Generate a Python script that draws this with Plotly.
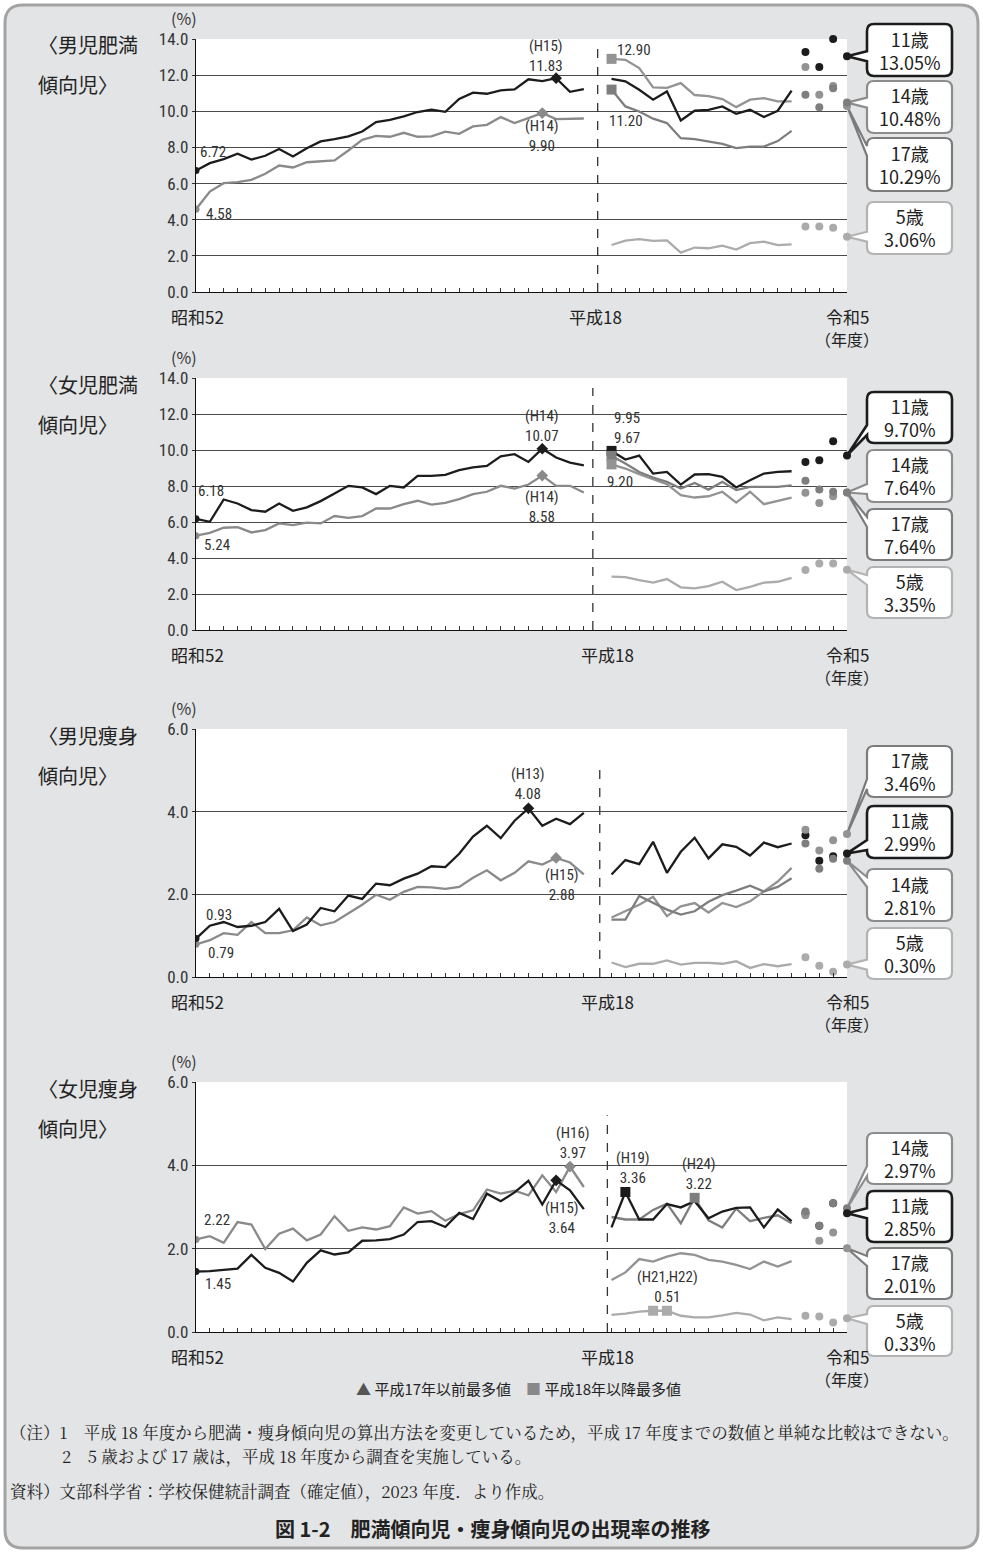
import plotly.graph_objects as go

W, H = 983, 1553

# ---------------- data ----------------
pre_years = list(range(1977, 2006))
post_years = list(range(2006, 2020))
dot_years = [2020, 2021, 2022]
last_year = 2023

# 男児肥満傾向児
bo_pre_11 = [6.72, 7.13, 7.35, 7.65, 7.33, 7.54, 7.91, 7.50, 7.96, 8.33, 8.46, 8.61, 8.88, 9.40, 9.53,
             9.72, 9.96, 10.09, 9.97, 10.68, 11.03, 10.97, 11.16, 11.21, 11.77, 11.67, 11.83, 11.08, 11.23]
bo_pre_14 = [4.58, 5.56, 6.02, 6.08, 6.21, 6.54, 7.00, 6.89, 7.18, 7.24, 7.28, 7.83, 8.42, 8.64, 8.59,
             8.81, 8.59, 8.61, 8.87, 8.75, 9.16, 9.25, 9.68, 9.35, 9.62, 9.90, 9.57, 9.60, 9.60]
bo_post_5 = [2.60, 2.84, 2.92, 2.83, 2.86, 2.18, 2.46, 2.42, 2.57, 2.35, 2.70, 2.79, 2.59, 2.64]
bo_post_11 = [11.80, 11.66, 11.19, 10.64, 11.10, 9.49, 10.03, 10.08, 10.27, 9.86, 10.08, 9.68, 10.03, 11.14]
bo_post_14 = [11.20, 10.27, 9.99, 9.59, 9.35, 8.51, 8.46, 8.33, 8.20, 7.96, 8.05, 8.05, 8.35, 8.92]
bo_post_17 = [12.90, 12.85, 12.39, 11.32, 11.30, 11.56, 10.90, 10.84, 10.68, 10.23, 10.64, 10.73, 10.55, 10.55]
bo_dots_5 = [3.62, 3.62, 3.55]
bo_dots_11 = [13.28, 12.45, 14.00]
bo_dots_14 = [10.92, 10.23, 11.28]
bo_dots_17 = [12.45, 10.92, 11.40]
bo_last = {"11": 13.05, "14": 10.48, "17": 10.29, "5": 3.06}

# 女児肥満傾向児
go_pre_11 = [6.18, 6.01, 7.25, 7.03, 6.66, 6.57, 7.03, 6.62, 6.81, 7.16, 7.58, 8.01, 7.92, 7.55, 8.01,
             7.92, 8.56, 8.56, 8.62, 8.88, 9.03, 9.12, 9.65, 9.77, 9.34, 10.07, 9.58, 9.30, 9.15]
go_pre_14 = [5.24, 5.40, 5.68, 5.71, 5.42, 5.55, 5.92, 5.83, 5.97, 5.92, 6.33, 6.23, 6.33, 6.75, 6.75,
             6.99, 7.18, 6.97, 7.06, 7.27, 7.55, 7.68, 8.01, 7.86, 8.08, 8.58, 8.01, 8.01, 7.64]
go_post_5 = [2.96, 2.94, 2.77, 2.63, 2.83, 2.37, 2.31, 2.44, 2.68, 2.22, 2.40, 2.63, 2.68, 2.90]
go_post_11 = [9.95, 9.47, 9.69, 8.69, 8.78, 8.08, 8.64, 8.66, 8.51, 7.92, 8.32, 8.69, 8.78, 8.82]
go_post_14 = [9.67, 9.25, 8.78, 8.47, 8.23, 7.86, 8.17, 7.80, 8.23, 7.77, 7.95, 7.95, 7.95, 8.03]
go_post_17 = [9.20, 8.97, 8.66, 8.36, 8.10, 7.49, 7.36, 7.43, 7.68, 7.08, 7.68, 6.99, 7.18, 7.36]
go_dots_5 = [3.33, 3.70, 3.70]
go_dots_11 = [9.34, 9.43, 10.49]
go_dots_14 = [8.29, 7.80, 7.68]
go_dots_17 = [7.62, 7.06, 7.43]
go_last = {"11": 9.70, "14": 7.64, "17": 7.64, "5": 3.35}

# 男児痩身傾向児
bt_pre_11 = [0.93, 1.24, 1.33, 1.21, 1.24, 1.33, 1.65, 1.11, 1.27, 1.67, 1.59, 1.97, 1.89, 2.26, 2.22,
             2.38, 2.50, 2.68, 2.66, 2.98, 3.40, 3.66, 3.36, 3.78, 4.08, 3.66, 3.83, 3.70, 3.97]
bt_pre_14 = [0.79, 0.89, 1.06, 1.02, 1.33, 1.06, 1.06, 1.13, 1.44, 1.25, 1.33, 1.53, 1.75, 1.99, 1.87,
             2.06, 2.18, 2.17, 2.13, 2.18, 2.40, 2.58, 2.34, 2.52, 2.80, 2.72, 2.88, 2.77, 2.48]
bt_post_5 = [0.35, 0.24, 0.32, 0.32, 0.40, 0.30, 0.34, 0.34, 0.32, 0.38, 0.22, 0.31, 0.26, 0.31]
bt_post_11 = [2.48, 2.83, 2.73, 3.27, 2.52, 3.03, 3.37, 2.87, 3.21, 3.15, 2.94, 3.25, 3.14, 3.23]
bt_post_14 = [1.39, 1.39, 1.96, 1.79, 1.63, 1.51, 1.59, 1.82, 1.98, 2.09, 2.21, 2.07, 2.18, 2.39]
bt_post_17 = [1.44, 1.60, 1.75, 1.94, 1.47, 1.71, 1.79, 1.56, 1.79, 1.69, 1.83, 2.07, 2.31, 2.64]
bt_dots_5 = [0.48, 0.27, 0.13]
bt_dots_11 = [3.43, 2.81, 2.92]
bt_dots_14 = [3.23, 2.62, 2.86]
bt_dots_17 = [3.56, 3.06, 3.31]
bt_last = {"11": 2.99, "14": 2.81, "17": 3.46, "5": 0.30}

# 女児痩身傾向児
gt_pre_11 = [1.45, 1.46, 1.49, 1.52, 1.85, 1.54, 1.42, 1.21, 1.66, 1.96, 1.86, 1.91, 2.19, 2.20, 2.23,
             2.34, 2.64, 2.66, 2.52, 2.86, 2.71, 3.32, 3.14, 3.35, 3.63, 3.06, 3.64, 3.40, 2.95]
gt_pre_14 = [2.22, 2.30, 2.14, 2.64, 2.58, 1.99, 2.36, 2.48, 2.20, 2.34, 2.78, 2.43, 2.51, 2.46, 2.54,
             2.99, 2.84, 2.90, 2.67, 2.83, 2.92, 3.42, 3.32, 3.39, 3.28, 3.76, 3.36, 3.97, 3.48]
gt_post_5 = [0.41, 0.44, 0.49, 0.51, 0.51, 0.39, 0.35, 0.35, 0.40, 0.46, 0.42, 0.28, 0.35, 0.31]
gt_post_11 = [2.51, 3.36, 2.70, 2.70, 3.07, 2.99, 3.14, 2.73, 2.89, 2.98, 2.99, 2.51, 2.94, 2.66]
gt_post_14 = [2.76, 2.70, 2.70, 2.93, 3.08, 2.61, 3.22, 2.68, 2.51, 2.96, 2.66, 2.74, 2.80, 2.61]
gt_post_17 = [1.25, 1.43, 1.75, 1.69, 1.81, 1.89, 1.85, 1.73, 1.69, 1.61, 1.51, 1.69, 1.57, 1.70]
gt_dots_5 = [0.39, 0.37, 0.23]
gt_dots_11 = [2.85, 2.55, 3.09]
gt_dots_14 = [2.89, 2.55, 3.09]
gt_dots_17 = [2.80, 2.19, 2.39]
gt_last = {"11": 2.85, "14": 2.97, "17": 2.01, "5": 0.33}

panel_titles = [("〈男児肥満", "傾向児〉"), ("〈女児肥満", "傾向児〉"),
                ("〈男児痩身", "傾向児〉"), ("〈女児痩身", "傾向児〉")]
x_labels = ["昭和52", "平成18", "令和5"]

# ---------------- style ----------------
C11, C14, C17, C5, CPRE14 = "#1c1c1c", "#7e7e7e", "#939393", "#ababab", "#8a8a8a"
BOX = {"11": "#1c1c1c", "14": "#8c8c8c", "17": "#7c7c7c", "5": "#b3b3b3"}
SERIES_COL = {"11": C11, "14": C14, "17": C17, "5": C5}
NUM = "Roboto Condensed, Liberation Sans Narrow, Liberation Sans, Noto Sans CJK JP, sans-serif"
JP = "Noto Sans CJK JP, sans-serif"
SERIF = "Noto Serif CJK JP, Noto Sans CJK JP, serif"
TXT = "#2a2a2a"

X0, X1 = 196, 847                         # plot area pixels (left/right)
GEOM = [(39, 292), (378, 630), (729, 977), (1082, 1332)]   # (top px, bottom px)
YMAX = [14, 14, 6, 6]
DASH_X = [29.0, 28.65, 29.15, 29.7]


def xi(year):
    return year - 1977 if year <= 2005 else year - 1976


def pp(x, y):
    return x / W, 1 - y / H


panels = [
    dict(pre11=bo_pre_11, pre14=bo_pre_14, p5=bo_post_5, p11=bo_post_11, p14=bo_post_14, p17=bo_post_17,
         d5=bo_dots_5, d11=bo_dots_11, d14=bo_dots_14, d17=bo_dots_17, last=bo_last,
         order=["11", "14", "17", "5"]),
    dict(pre11=go_pre_11, pre14=go_pre_14, p5=go_post_5, p11=go_post_11, p14=go_post_14, p17=go_post_17,
         d5=go_dots_5, d11=go_dots_11, d14=go_dots_14, d17=go_dots_17, last=go_last,
         order=["11", "14", "17", "5"]),
    dict(pre11=bt_pre_11, pre14=bt_pre_14, p5=bt_post_5, p11=bt_post_11, p14=bt_post_14, p17=bt_post_17,
         d5=bt_dots_5, d11=bt_dots_11, d14=bt_dots_14, d17=bt_dots_17, last=bt_last,
         order=["17", "11", "14", "5"]),
    dict(pre11=gt_pre_11, pre14=gt_pre_14, p5=gt_post_5, p11=gt_post_11, p14=gt_post_14, p17=gt_post_17,
         d5=gt_dots_5, d11=gt_dots_11, d14=gt_dots_14, d17=gt_dots_17, last=gt_last,
         order=["14", "11", "17", "5"]),
]

BOXES = [
    [(24, 76), (81, 133), (138, 191), (202, 254)],
    [(392, 443), (450, 502), (509, 560), (567, 618)],
    [(746, 797), (806, 858), (869, 921), (928, 979)],
    [(1133, 1184), (1191, 1242), (1248, 1299), (1306, 1356)],
]
BX0, BX1 = 867, 952

MAX_PRE = [
    (0, 2003, "(H15)", "bottom", -10, 1, C11, True),
    (0, 2002, "(H14)", "top", 0, -2, CPRE14, False),
    (1, 2002, "(H14)", "bottom", 0, 2, C11, True),
    (1, 2002, "(H14)", "top", 0, -10, CPRE14, False),
    (2, 2001, "(H13)", "bottom", 0, 3, C11, True),
    (2, 2003, "(H15)", "top", 6, -6, CPRE14, False),
    (3, 2004, "(H16)", "bottom", 3, 3, CPRE14, False),
    (3, 2003, "(H15)", "top", 6, -17, C11, True),
]

fig = go.Figure()
shapes, annos = [], []
F = lambda s, c=TXT, fam=NUM: dict(size=s, color=c, family=fam)


def P(x, y):
    a, b = pp(x, y)
    return f"{a:.5f},{b:.5f}"


def rr_path(x0, y0, x1, y1, r):
    return (f"M{P(x0+r,y0)} L{P(x1-r,y0)} Q{P(x1,y0)} {P(x1,y0+r)} L{P(x1,y1-r)} Q{P(x1,y1)} {P(x1-r,y1)} "
            f"L{P(x0+r,y1)} Q{P(x0,y1)} {P(x0,y1-r)} L{P(x0,y0+r)} Q{P(x0,y0)} {P(x0+r,y0)} Z")


def callout_path(x0, y0, x1, y1, tx, ty, r=7, hw=5):
    bc = min(max(ty, y0 + r + hw + 1), y1 - r - hw - 1)
    bA, bB = bc + hw, bc - hw
    return (f"M{P(x0+r,y0)} L{P(x1-r,y0)} Q{P(x1,y0)} {P(x1,y0+r)} L{P(x1,y1-r)} Q{P(x1,y1)} {P(x1-r,y1)} "
            f"L{P(x0+r,y1)} Q{P(x0,y1)} {P(x0,y1-r)} L{P(x0,bA)} L{P(tx,ty)} L{P(x0,bB)} "
            f"L{P(x0,y0+r)} Q{P(x0,y0)} {P(x0+r,y0)} Z")


shapes.append(dict(type="path", xref="paper", yref="paper", path=rr_path(5, 5, 978, 1548, 18),
                   fillcolor="#e3e4e5", line=dict(color="#a3a3a3", width=3), layer="below"))

xpre = [xi(y) for y in pre_years]
xpost = [xi(y) for y in post_years]
xdots = [xi(y) for y in dot_years]
xlast = xi(last_year)
layout_axes = {}

for k, p in enumerate(panels):
    top, bot = GEOM[k]
    ymax = YMAX[k]
    xa = "x" if k == 0 else f"x{k+1}"
    ya = "y" if k == 0 else f"y{k+1}"
    layout_axes["xaxis" if k == 0 else f"xaxis{k+1}"] = dict(
        domain=[X0 / W, X1 / W], range=[0, 47], anchor=ya, showgrid=False, zeroline=False,
        showline=True, linecolor="#111", linewidth=1.3, ticks="inside", ticklen=4, tickwidth=1,
        tickcolor="#333", tickvals=[i for i in range(48) if i != 29], showticklabels=False,
        fixedrange=True, automargin=False)
    layout_axes["yaxis" if k == 0 else f"yaxis{k+1}"] = dict(
        domain=[1 - bot / H, 1 - top / H], range=[0, ymax], anchor=xa, dtick=2, tickformat=".1f",
        showgrid=True, gridcolor="#4a4a4a", gridwidth=1, zeroline=False, showline=True,
        linecolor="#111", linewidth=1.3, ticks="outside", ticklen=3, tickcolor="#333",
        tickfont=F(17, "#333"), fixedrange=True, automargin=False)

    shapes.append(dict(type="rect", xref="paper", yref="paper", x0=X0 / W, x1=X1 / W,
                       y0=1 - bot / H, y1=1 - top / H, fillcolor="white", line=dict(width=0), layer="below"))
    dtop = ymax * (0.96 if ymax == 14 else 0.867)
    shapes.append(dict(type="line", xref=xa, yref=ya, x0=DASH_X[k], x1=DASH_X[k], y0=0, y1=dtop,
                       line=dict(color="#333", width=1.3, dash="dash"), layer="above"))

    def add(x, y, color, width=2.3, mode="lines", msize=8, symbol="circle", clip=True):
        fig.add_trace(go.Scatter(x=x, y=y, xaxis=xa, yaxis=ya, mode=mode, cliponaxis=clip,
                                 line=dict(color=color, width=width),
                                 marker=dict(color=color, size=msize, symbol=symbol, line=dict(width=0)),
                                 hoverinfo="skip", showlegend=False))

    add(xpre, p["pre14"], CPRE14)
    add(xpre, p["pre11"], C11)
    add([xpre[0]], [p["pre14"][0]], CPRE14, mode="markers", msize=7)
    add([xpre[0]], [p["pre11"][0]], C11, mode="markers", msize=7)
    add(xpost, p["p5"], C5)
    add(xpost, p["p17"], C17)
    add(xpost, p["p14"], C14)
    add(xpost, p["p11"], C11)
    add(xdots, p["d11"], C11, mode="markers", msize=8, clip=False)
    add(xdots, p["d5"], C5, mode="markers", msize=8, clip=False)
    add(xdots, p["d17"], C17, mode="markers", msize=8, clip=False)
    add(xdots, p["d14"], C14, mode="markers", msize=8, clip=False)
    for key in ["5", "17", "14", "11"]:
        add([xlast], [p["last"][key]], SERIES_COL[key], mode="markers", msize=8, clip=False)

    for (btop, bbot), key in zip(BOXES[k], p["order"]):
        v = p["last"][key]
        ty = bot - v / ymax * (bot - top)
        shapes.append(dict(type="path", xref="paper", yref="paper",
                           path=callout_path(BX0, btop, BX1, bbot, X1, ty),
                           fillcolor="white", line=dict(color=BOX[key], width=2.6 if key == "11" else 2.2),
                           layer="below"))
        cx, cy = pp((BX0 + BX1) / 2, (btop + bbot) / 2)
        annos.append(dict(x=cx, y=cy, xref="paper", yref="paper", showarrow=False,
                          xanchor="center", yanchor="middle",
                          text=f"{key}歳<br>{v:.2f}%", font=F(18, "#222", JP), align="center"))

    t1, t2 = panel_titles[k]
    for txt, yy in [(t1, top + 6), (t2, top + 46)]:
        ax_, ay_ = pp(36, yy)
        annos.append(dict(x=ax_, y=ay_, xref="paper", yref="paper", text=txt, showarrow=False,
                          xanchor="left", yanchor="middle", font=F(20, "#222", JP)))
    ax_, ay_ = pp(184, top - 21)
    annos.append(dict(x=ax_, y=ay_, xref="paper", yref="paper", text="(%)", showarrow=False,
                      xanchor="center", yanchor="middle", font=F(16, "#333", JP)))
    for txt, xv, dx in [(x_labels[0], 0, 1), (x_labels[1], 29, -2 if k == 0 else 10), (x_labels[2], 47, 0)]:
        annos.append(dict(x=xv, y=0, xref=xa, yref=ya, text=txt, showarrow=False, xanchor="center",
                          yanchor="top", xshift=dx, yshift=-10, font=F(17, "#222", JP)))
    annos.append(dict(x=47, y=0, xref=xa, yref=ya, text="（年度）", showarrow=False, xanchor="center",
                      yanchor="top", yshift=-33, font=F(16, "#222", JP)))

    s11, s14 = p["pre11"][0], p["pre14"][0]
    lab = {0: [(s11, "bottom", 2, 8), (s14, "middle", 8, -5)],
           1: [(s11, "bottom", 0, 17), (s14, "top", 6, 2)],
           2: [(s11, "bottom", 8, 13), (s14, "top", 10, 2)],
           3: [(s14, "bottom", 6, 9), (s11, "top", 7, -1)]}[k]
    for v, yan, dx, dy in lab:
        annos.append(dict(x=0, y=v, xref=xa, yref=ya, text=f"{v:.2f}", showarrow=False,
                          xanchor="left", yanchor=yan, xshift=dx, yshift=dy, font=F(15, "#333")))

for k, yr, tag, yan, dx, dy, col, is11 in MAX_PRE:
    p = panels[k]
    series = p["pre11"] if is11 else p["pre14"]
    v = series[xi(yr)]
    xa = "x" if k == 0 else f"x{k+1}"
    ya = "y" if k == 0 else f"y{k+1}"
    fig.add_trace(go.Scatter(x=[xi(yr)], y=[v], xaxis=xa, yaxis=ya, mode="markers",
                             marker=dict(color=col, size=9, symbol="diamond"), hoverinfo="skip",
                             showlegend=False))
    annos.append(dict(x=xi(yr), y=v, xref=xa, yref=ya, text=f"{tag}<br>{v:.2f}", xanchor="center",
                      showarrow=False, yanchor=yan, xshift=dx, yshift=dy, font=F(15, "#333")))

POST_MAX = [
    (0, 2006, "p17", C17, None), (0, 2006, "p14", C14, None),
    (1, 2006, "p11", C11, None), (1, 2006, "p14", C14, None), (1, 2006, "p17", C17, None),
    (3, 2007, "p11", C11, "(H19)"), (3, 2012, "p14", C14, "(H24)"),
    (3, 2009, "p5", C5, None), (3, 2010, "p5", C5, None),
]
for k, yr, key, col, tag in POST_MAX:
    xa = "x" if k == 0 else f"x{k+1}"
    ya = "y" if k == 0 else f"y{k+1}"
    v = panels[k][key][yr - 2006]
    fig.add_trace(go.Scatter(x=[xi(yr)], y=[v], xaxis=xa, yaxis=ya, mode="markers",
                             marker=dict(color=col, size=10, symbol="square"), hoverinfo="skip",
                             showlegend=False))
    if tag:
        annos.append(dict(x=xi(yr), y=v, xref=xa, yref=ya, text=f"{tag}<br>{v:.2f}", showarrow=False,
                          xanchor="center", yanchor="bottom", xshift=8 if tag == "(H19)" else 4, yshift=3,
                          font=F(15, "#333")))

annos += [
    dict(x=30, y=bo_post_17[0], xref="x", yref="y", text=f"{bo_post_17[0]:.2f}", showarrow=False,
         xanchor="left", yanchor="middle", xshift=3, yshift=9, font=F(15, "#333")),
    dict(x=30, y=bo_post_14[0], xref="x", yref="y", text=f"{bo_post_14[0]:.2f}", showarrow=False,
         xanchor="left", yanchor="top", xshift=-5, yshift=-20, font=F(15, "#333")),
    dict(x=30, y=go_post_11[0], xref="x2", yref="y2", text=f"{go_post_11[0]:.2f}<br>{go_post_14[0]:.2f}",
         showarrow=False, xanchor="left", yanchor="bottom", xshift=0, yshift=2, font=F(15, "#333"),
         align="left"),
    dict(x=30, y=go_post_17[0], xref="x2", yref="y2", text=f"{go_post_17[0]:.2f}", showarrow=False,
         xanchor="left", yanchor="top", xshift=-7, yshift=-7, font=F(15, "#333")),
    dict(x=33.5, y=gt_post_5[3], xref="x4", yref="y4", text=f"(H21,H22)<br>{gt_post_5[3]:.2f}",
         showarrow=False, xanchor="center", yanchor="bottom", xshift=7, yshift=3, font=F(15, "#333")),
]


def pa(x, y, text, size, xanchor="left", fam=JP, color="#222", bold=False):
    a, b = pp(x, y)
    if bold:
        text = f"<b>{text}</b>"
    annos.append(dict(x=a, y=b, xref="paper", yref="paper", text=text, showarrow=False,
                      xanchor=xanchor, yanchor="middle", font=dict(size=size, family=fam, color=color)))


pa(518, 1388, "<span style='color:#555'>▲</span> 平成17年以前最多値　"
              "<span style='color:#888'>■</span> 平成18年以降最多値", 15, "center")
pa(8, 1432, "（注）1　平成 18 年度から肥満・痩身傾向児の算出方法を変更しているため，"
            "平成 17 年度までの数値と単純な比較はできない。", 16.5, fam=SERIF)
pa(60, 1456, "2　5 歳および 17 歳は，平成 18 年度から調査を実施している。", 16.5, fam=SERIF)
pa(8, 1491, "資料）文部科学省：学校保健統計調査（確定値），2023 年度．より作成。", 16.5, fam=SERIF)
pa(493, 1528, "図 1-2　肥満傾向児・痩身傾向児の出現率の推移", 20, "center", bold=True)

fig.update_layout(width=W, height=H, margin=dict(l=0, r=0, t=0, b=0, pad=0, autoexpand=False),
                  paper_bgcolor="white", plot_bgcolor="white", showlegend=False,
                  shapes=shapes, annotations=annos, font=dict(family=JP), **layout_axes)

POST = ("document.documentElement.style.margin='0';document.body.style.margin='0';"
        "document.body.style.overflow='hidden';"
        "var d=document.getElementsByClassName('plotly-graph-div')[0];"
        "d.style.position='fixed';d.style.top='0px';d.style.left='0px';")
fig.write_html("out.html", post_script=POST, config={"displayModeBar": False})
